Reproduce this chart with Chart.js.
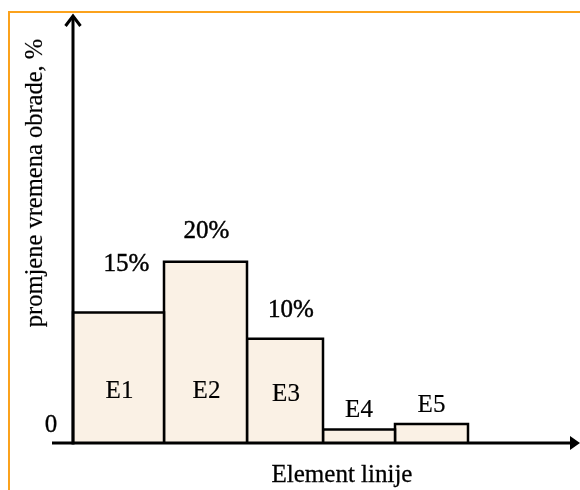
<!DOCTYPE html>
<html>
<head>
<meta charset="utf-8">
<script src="https://cdn.jsdelivr.net/npm/chart.js@4/dist/chart.umd.min.js"></script>
<style>
  html, body { margin: 0; padding: 0; background: #ffffff; }
  #wrap { position: relative; width: 580px; height: 490px; }
</style>
</head>
<body>
<div id="wrap"><canvas id="c" width="580" height="490"></canvas></div>
<script>
// ---- data ----
const categories = ['E1', 'E2', 'E3', 'E4', 'E5'];
const elementWidths = [91, 83, 76, 72, 73];          // relative width of each element
const values = [14.4, 20, 11.5, 1.5, 2.1];           // change of processing time, %
const valueLabels = ['15%', '20%', '10%', '', ''];
const yTickLabels = ['0'];
const yTitle = 'promjene vremena obrade, %';
const xTitle = 'Element linije';

// ---- build datasets (each element drawn as a filled block through the scales) ----
const edges = [0];
elementWidths.forEach(w => edges.push(edges[edges.length - 1] + w));
const datasets = categories.map((c, i) => ({
  label: c,
  data: [
    { x: edges[i], y: 0 },
    { x: edges[i], y: values[i] },
    { x: edges[i + 1], y: values[i] },
    { x: edges[i + 1], y: 0 }
  ],
  fill: 'origin',
  backgroundColor: '#faf1e5',
  borderColor: '#000000',
  borderWidth: 2.5,
  pointRadius: 0,
  tension: 0
}));

const FONT = '25px "Liberation Serif", "Times New Roman", serif';

function heavyText(ctx, t, x, y, w) {
  ctx.lineWidth = w;
  ctx.strokeText(t, x, y);
  ctx.fillText(t, x, y);
}

const decor = {
  id: 'decor',
  afterDatasetsDraw(chart) {
    const ctx = chart.ctx;
    const xs = chart.scales.x, ys = chart.scales.y;
    const x0 = xs.getPixelForValue(0);
    const y0 = ys.getPixelForValue(0);
    const area = chart.chartArea;
    ctx.save();
    // orange frame
    ctx.fillStyle = '#fba21c';
    ctx.fillRect(8, 11, 572, 2);
    ctx.fillRect(8, 11, 2, 479);

    // axes
    ctx.strokeStyle = '#000';
    ctx.fillStyle = '#000';
    ctx.lineWidth = 3;
    ctx.beginPath();
    ctx.moveTo(x0, y0 + 1.5);
    ctx.lineTo(x0, area.top);
    ctx.stroke();
    ctx.beginPath();
    ctx.moveTo(x0 - 7.5, area.top + 9);
    ctx.lineTo(x0, area.top - 1);
    ctx.lineTo(x0 + 7.5, area.top + 9);
    ctx.stroke();

    ctx.beginPath();
    ctx.moveTo(area.left, y0);
    ctx.lineTo(572, y0);
    ctx.stroke();
    ctx.beginPath();
    ctx.moveTo(580, y0);
    ctx.lineTo(570, y0 - 7);
    ctx.lineTo(570, y0 + 7);
    ctx.closePath();
    ctx.fill();

    // texts
    ctx.font = FONT;
    ctx.textAlign = 'center';
    ctx.textBaseline = 'alphabetic';
    heavyText(ctx, yTickLabels[0], x0 - 22, y0 - 11, 0.3);

    const valOffsets = [[8, 41], [1, 24], [6, 22], [0, 20], [0, 20]];
    categories.forEach((c, i) => {
      const cx = (xs.getPixelForValue(edges[i]) + xs.getPixelForValue(edges[i + 1])) / 2;
      const top = ys.getPixelForValue(values[i]);
      if (valueLabels[i]) {
        heavyText(ctx, valueLabels[i], cx + valOffsets[i][0], top - valOffsets[i][1], 0.45);
      }
      const h = y0 - top;
      if (h > 60) {
        heavyText(ctx, c, cx + 1, y0 - 45 + (i === 2 ? 3 : 0), 0.2);
      } else {
        heavyText(ctx, c, cx, top - 12, 0.2);
      }
    });

    heavyText(ctx, xTitle, 342, 482, 0.3);

    ctx.font = '24.5px "Liberation Serif", "Times New Roman", serif';
    ctx.translate(42, 183);
    ctx.rotate(-Math.PI / 2);
    heavyText(ctx, yTitle, 0, 0, 0.2);
    ctx.restore();
  }
};

new Chart(document.getElementById('c'), {
  type: 'line',
  data: { datasets },
  options: {
    responsive: false,
    animation: false,
    layout: { padding: { left: 52, right: 2, top: 17, bottom: 47 } },
    plugins: { legend: { display: false }, tooltip: { enabled: false } },
    scales: {
      x: { type: 'linear', min: -21, max: 505, display: false },
      y: { type: 'linear', min: 0, max: 47, display: false }
    }
  },
  plugins: [decor]
});
</script>
</body>
</html>
